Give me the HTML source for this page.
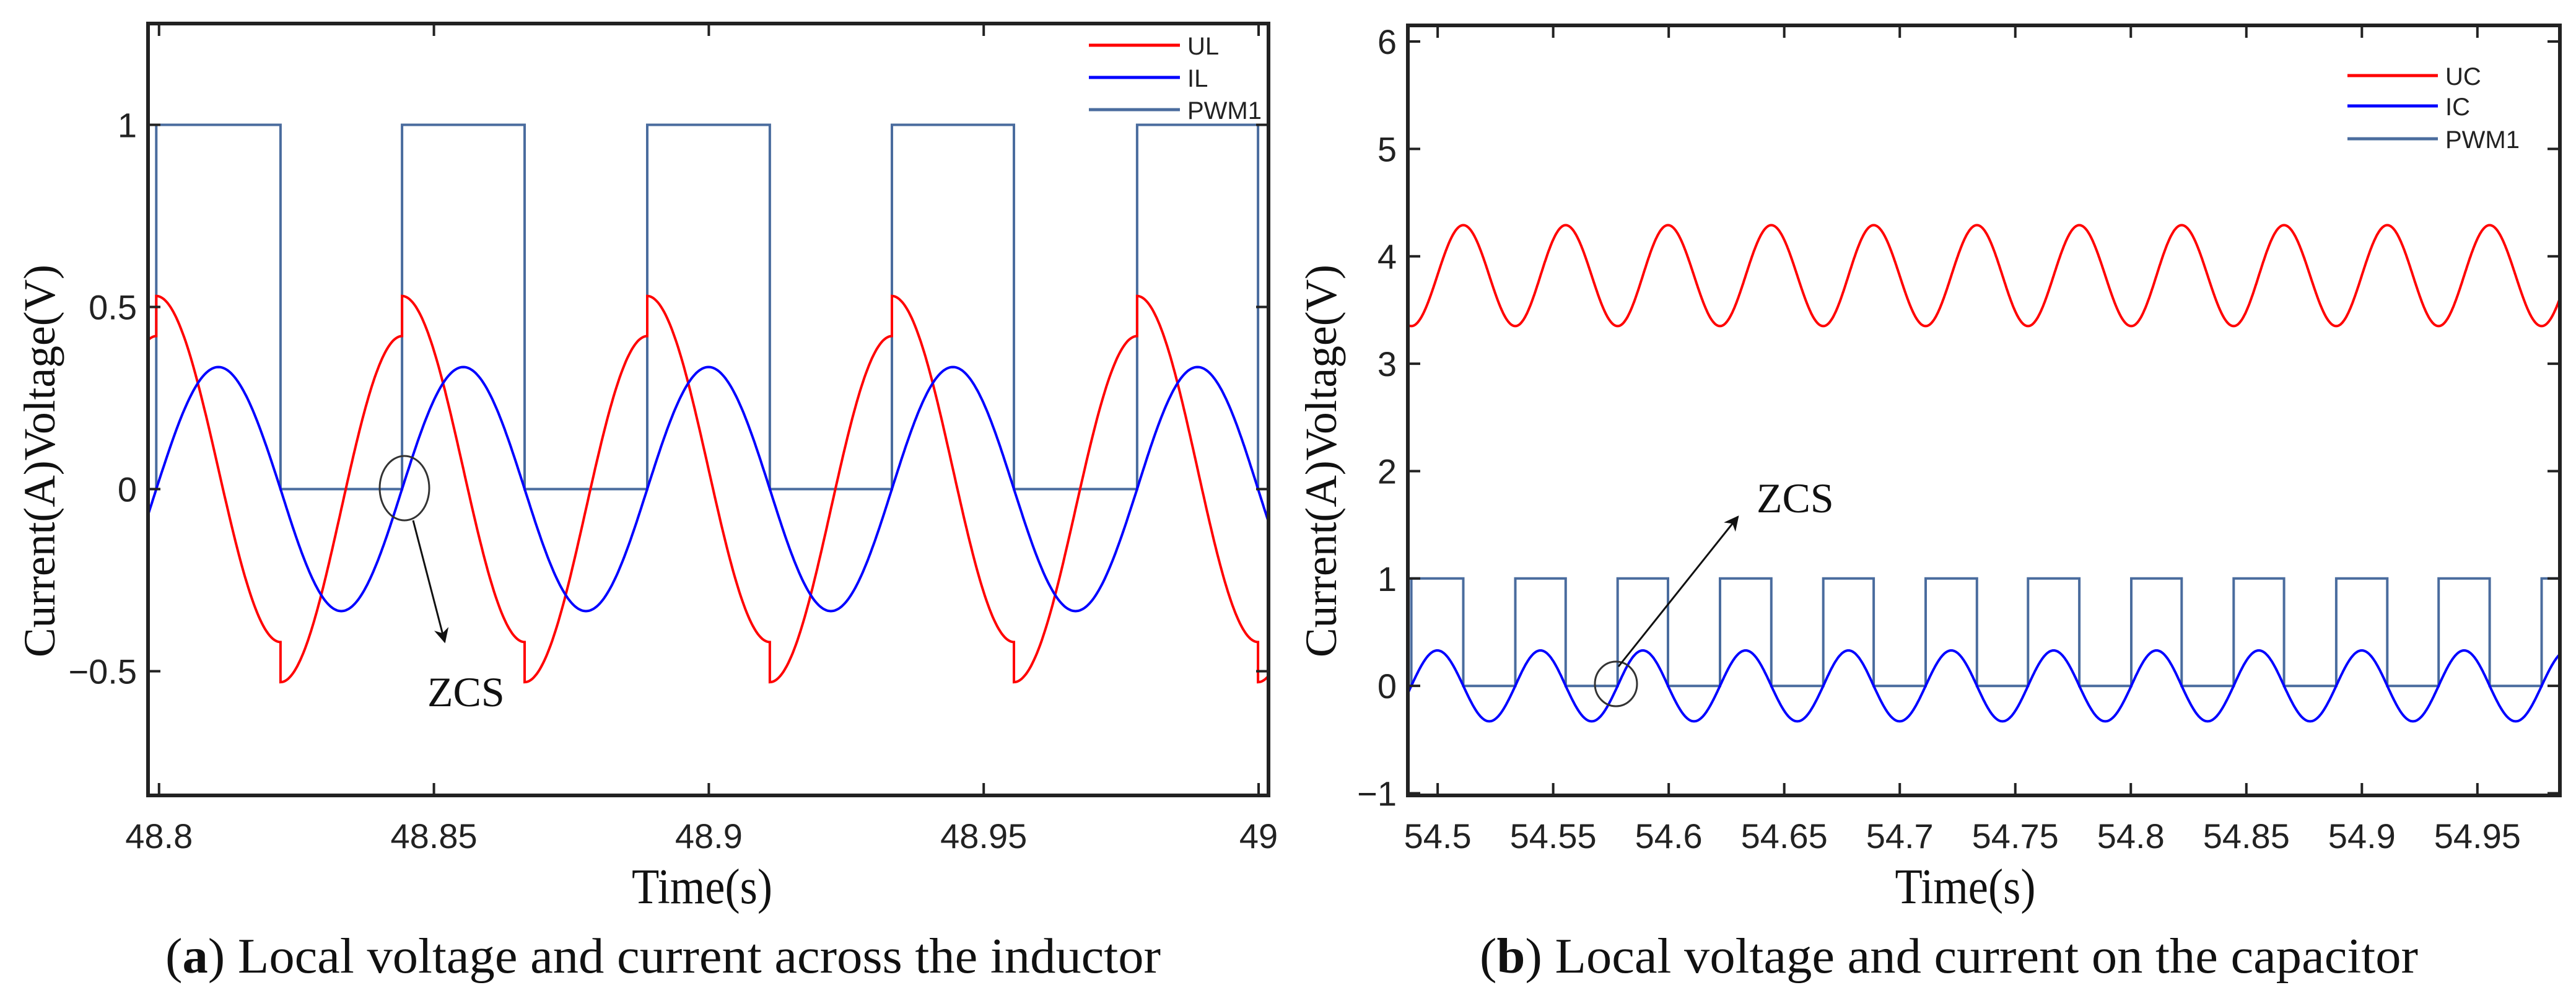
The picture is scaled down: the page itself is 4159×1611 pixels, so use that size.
<!DOCTYPE html>
<html><head><meta charset="utf-8"><style>
html,body{margin:0;padding:0;background:#fff;}
svg{display:block;}
.tick{font-family:"Liberation Sans",Arial,sans-serif;font-size:56px;fill:#222;}
.serif{font-family:"Liberation Serif","Times New Roman",serif;fill:#111;}
.leg{font-family:"Liberation Sans",Arial,sans-serif;font-size:40px;fill:#222;}
</style></head><body>
<svg id="chart" width="4159" height="1611" viewBox="0 0 4159 1611" xmlns="http://www.w3.org/2000/svg">
<defs>
<clipPath id="clipA"><rect x="239" y="38" width="1809" height="1246"/></clipPath>
<clipPath id="clipB"><rect x="2273" y="41" width="1860" height="1243"/></clipPath>
<marker id="arr" viewBox="0 0 10 10" refX="9" refY="5" markerWidth="8" markerHeight="8" orient="auto"><path d="M0,0 L10,5 L0,10 L3,5 z" fill="#111"/></marker>
</defs>
<g id="panelA"></g>
<g id="panelB"></g>
</svg>
<script>
// ---------- Panel (a) data ----------
const aXTicks=[48.8,48.85,48.9,48.95,49];
const aXTickLabels=["48.8","48.85","48.9","48.95","49"];
const aYTicks=[-0.5,0,0.5,1];
const aYTickLabels=["\u22120.5","0","0.5","1"];
const aPwmRise=[48.7995,48.8442,48.8888,48.9333,48.9779];
const aPwmFall=[48.8221,48.8665,48.9111,48.9555,48.9999];
const aULLevels=[0.53,-0.42,-0.53,0.42]; // on-start, on-end, off-start, off-end
const aILAmp=[0.335];
// ---------- Panel (b) data ----------
const bXTicks=[54.5,54.55,54.6,54.65,54.7,54.75,54.8,54.85,54.9,54.95];
const bXTickLabels=["54.5","54.55","54.6","54.65","54.7","54.75","54.8","54.85","54.9","54.95"];
const bYTicks=[-1,0,1,2,3,4,5,6];
const bYTickLabels=["\u22121","0","1","2","3","4","5","6"];
const bPwmRise=[54.4886,54.5336,54.5779,54.6222,54.6669,54.7112,54.7555,54.8002,54.8445,54.8889,54.9332,54.9778];
const bPwmFall=[54.5111,54.5554,54.5997,54.6444,54.6887,54.7334,54.7777,54.8220,54.8663,54.9110,54.9553];
const bUCLevels=[3.35,4.29,4.29,3.35];
const bICAmp=[0.33];

const NS="http://www.w3.org/2000/svg";
function mk(tag,attrs,parent){const e=document.createElementNS(NS,tag);for(const k in attrs)e.setAttribute(k,attrs[k]);parent.appendChild(e);return e;}

function buildSegments(rise,fall){
  const T=rise[1]-rise[0];
  const edges=[];
  rise.forEach(t=>edges.push([t,1]));fall.forEach(t=>edges.push([t,0]));
  edges.sort((a,b)=>a[0]-b[0]);
  const first=edges[0],last=edges[edges.length-1];
  const on=fall[0]-rise[0];
  edges.unshift([first[0]-(first[1]===1?T-on:on),1-first[1]]);
  edges.push([last[0]+(last[1]===1?on:T-on),1-last[1]]);
  const segs=[];
  for(let i=0;i<edges.length-1;i++)segs.push([edges[i][0],edges[i+1][0],edges[i][1]]);
  return segs;
}

function drawPanel(g,cfg){
  const {L,R,T,B,xmin,xmax,ymin,ymax}=cfg;
  const X=v=>L+(v-xmin)/(xmax-xmin)*(R-L);
  const Y=v=>B-(v-ymin)/(ymax-ymin)*(B-T);
  const segs=buildSegments(cfg.rise,cfg.fall);
  const lvl=cfg.levels, amp=cfg.amp[0];
  let pd="";let started=false;
  segs.forEach(s=>{const v=s[2]?1:0;const x0=X(s[0]),x1=X(s[1]);
    pd+=(started?"L":"M")+x0.toFixed(1)+","+Y(v).toFixed(1)+"L"+x1.toFixed(1)+","+Y(v).toFixed(1);started=true;});
  let vd="",id="";started=false;
  segs.forEach(s=>{
    const n=80;
    for(let k=0;k<=n;k++){
      const f=k/n;const t=s[0]+f*(s[1]-s[0]);
      const a=s[2]?lvl[0]:lvl[2], b=s[2]?lvl[1]:lvl[3];
      const mid=(a+b)/2, half=(a-b)/2;
      const v=mid+half*Math.cos(Math.PI*f);
      const c=(s[2]?1:-1)*amp*Math.sin(Math.PI*f);
      vd+=(started?"L":"M")+X(t).toFixed(1)+","+Y(v).toFixed(1);
      id+=(started?"L":"M")+X(t).toFixed(1)+","+Y(c).toFixed(1);
      started=true;
    }
  });
  const cg=mk("g",{"clip-path":"url(#"+cfg.clip+")"},g);
  const pw=mk("path",{d:pd,fill:"none",stroke:"#4a6c9e","stroke-width":4},cg);
  
  
  const vl=mk("path",{d:vd,fill:"none",stroke:"#ff0000","stroke-width":4},cg);
  
  
  const il=mk("path",{d:id,fill:"none",stroke:"#0000ff","stroke-width":4},cg);
  
  
  const box=mk("rect",{x:L,y:T,width:R-L,height:B-T,fill:"none",stroke:"#222","stroke-width":6},g);
  
  
  cfg.xt.forEach((v,i)=>{const x=X(v);
    mk("line",{x1:x,y1:B,x2:x,y2:B-20,stroke:"#222","stroke-width":4},g);
    mk("line",{x1:x,y1:T,x2:x,y2:T+20,stroke:"#222","stroke-width":4},g);
    const t=mk("text",{x:x,y:B+85,"text-anchor":"middle",class:"tick"},g);t.textContent=cfg.xtl[i];
    
    
  });
  cfg.yt.forEach((v,i)=>{const y=Y(v);
    mk("line",{x1:L,y1:y,x2:L+20,y2:y,stroke:"#222","stroke-width":4},g);
    mk("line",{x1:R,y1:y,x2:R-20,y2:y,stroke:"#222","stroke-width":4},g);
    const t=mk("text",{x:L-18,y:y+20,"text-anchor":"end",class:"tick"},g);t.textContent=cfg.ytl[i];
    
    
  });
  const cols=["#ff0000","#0000ff","#4a6c9e"];
  cfg.legend.forEach((name,i)=>{const y=cfg.legY[i];
    const ln=mk("line",{x1:cfg.legX1,y1:y,x2:cfg.legX2,y2:y,stroke:cols[i],"stroke-width":5},g);
    
    
    const t=mk("text",{x:cfg.legX2+12,y:y+15,class:"leg"},g);t.textContent=name;
    
    
  });
  const yl=mk("text",{x:0,y:0,transform:"translate("+cfg.ylx+",744) rotate(-90)","text-anchor":"middle",class:"serif","font-size":72,textLength:634,lengthAdjust:"spacingAndGlyphs"},g);
  yl.textContent="Current(A)Voltage(V)";
  
  
  const xl=mk("text",{x:(L+R)/2+cfg.xlOff,y:1458,"text-anchor":"middle",class:"serif","font-size":80,textLength:227,lengthAdjust:"spacingAndGlyphs"},g);
  xl.textContent="Time(s)";
  
  
  const c=mk("ellipse",{cx:cfg.zcs.cx,cy:cfg.zcs.cy,rx:cfg.zcs.rx,ry:cfg.zcs.ry,fill:"none",stroke:"#333","stroke-width":3},g);
  
  
  const a=mk("line",{x1:cfg.zcs.ax1,y1:cfg.zcs.ay1,x2:cfg.zcs.ax2,y2:cfg.zcs.ay2,stroke:"#111","stroke-width":3,"marker-end":"url(#arr)"},g);
  
  
  const zt=mk("text",{x:cfg.zcs.tx,y:cfg.zcs.ty,class:"serif","font-size":68},g);
  zt.textContent="ZCS";
  
  
  const cap=mk("text",{x:cfg.capX,y:1570,class:"serif","font-size":80,textLength:cfg.capW,lengthAdjust:"spacingAndGlyphs"},g);
  const b=mk("tspan",{"font-weight":"bold"},cap);
  cap.insertBefore(document.createTextNode("("),b);
  b.textContent=cfg.capLetter;
  cap.appendChild(document.createTextNode(") "+cfg.capText));
  
  
}

drawPanel(document.getElementById("panelA"),{
  prefix:"panel-a",clip:"clipA",L:239,R:2048,T:38,B:1284,xmin:48.798,xmax:49.0018,ymin:-0.841,ymax:1.278,
  rise:aPwmRise,fall:aPwmFall,levels:aULLevels,amp:aILAmp,
  xt:aXTicks,xtl:aXTickLabels,yt:aYTicks,ytl:aYTickLabels,
  legend:["UL","IL","PWM1"],legY:[73,125,177],legX1:1758,legX2:1905,
  ylx:88,xlOff:-10,
  zcs:{cx:653,cy:788,rx:40,ry:52,ax1:667,ay1:840,ax2:718,ay2:1036,tx:690,ty:1140},
  capX:267,capW:1607,capLetter:"a",capText:"Local voltage and current across the inductor"
});
drawPanel(document.getElementById("panelB"),{
  prefix:"panel-b",clip:"clipB",L:2273,R:4133,T:41,B:1284,xmin:54.4871,xmax:54.9857,ymin:-1.02,ymax:6.15,
  rise:bPwmRise,fall:bPwmFall,levels:bUCLevels,amp:bICAmp,
  xt:bXTicks,xtl:bXTickLabels,yt:bYTicks,ytl:bYTickLabels,
  legend:["UC","IC","PWM1"],legY:[122,171,224],legX1:3790,legX2:3936,
  ylx:2157,xlOff:-30,
  zcs:{cx:2609,cy:1104,rx:34,ry:36,ax1:2613,ay1:1076,ax2:2806,ay2:834,tx:2836,ty:827},
  capX:2389,capW:1515,capLetter:"b",capText:"Local voltage and current on the capacitor"
});
</script>
</body></html>
